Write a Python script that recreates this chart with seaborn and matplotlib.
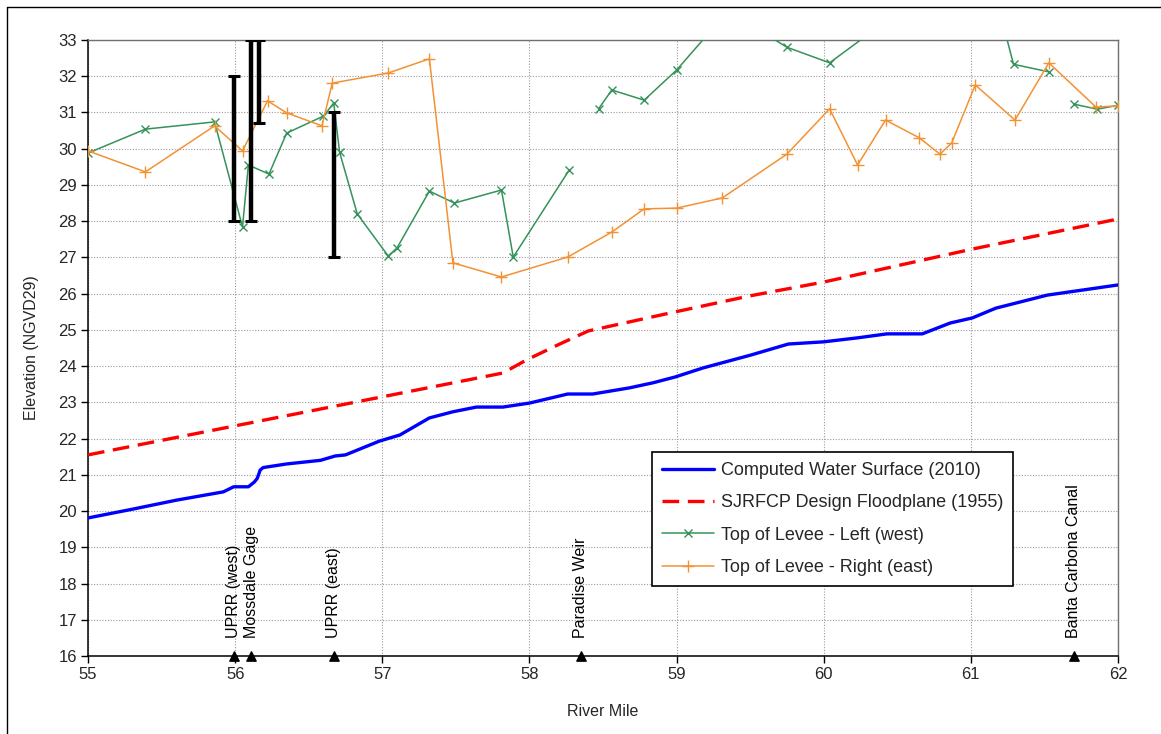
import numpy as np
import pandas as pd
import matplotlib
matplotlib.use("Agg")
import matplotlib.pyplot as plt
import seaborn as sns
from matplotlib.lines import Line2D

# ---------------- data ----------------
ws_mile = [55.0, 55.3, 55.6, 55.92, 55.99, 56.09, 56.13, 56.15, 56.17, 56.19, 56.35, 56.58,
           56.68, 56.75, 56.98, 57.12, 57.32, 57.48, 57.64, 57.82, 58.0, 58.26, 58.43, 58.68,
           58.84, 58.99, 59.18, 59.5, 59.76, 60.0, 60.23, 60.43, 60.67, 60.86, 61.01, 61.17,
           61.52, 62.0]
ws_elev = [19.81, 20.05, 20.3, 20.53, 20.67, 20.67, 20.8, 20.9, 21.13, 21.2, 21.3, 21.4,
           21.52, 21.55, 21.93, 22.10, 22.57, 22.74, 22.87, 22.87, 22.98, 23.23, 23.23, 23.4,
           23.54, 23.7, 23.95, 24.3, 24.61, 24.67, 24.78, 24.89, 24.89, 25.19, 25.33, 25.6,
           25.96, 26.24]

fp_mile = [55.0, 57.82, 57.98, 58.19, 58.4, 58.96, 59.5, 60.0, 61.01, 62.0]
fp_elev = [21.55, 23.81, 24.17, 24.58, 24.97, 25.47, 25.94, 26.32, 27.23, 28.06]

# left (west) levee, three separate reaches
left1_mile = [55.0, 55.39, 55.86, 56.05, 56.09, 56.23, 56.35, 56.6, 56.67, 56.71, 56.83,
              57.04, 57.1, 57.32, 57.49, 57.81, 57.89, 58.27]
left1_elev = [29.88, 30.54, 30.74, 27.84, 29.55, 29.30, 30.43, 30.9, 31.26, 29.9, 28.2,
              27.04, 27.26, 28.83, 28.5, 28.86, 27.01, 29.41]
left2_mile = [58.47, 58.56, 58.78, 59.0, 59.35, 59.75, 60.04, 60.5, 61.15, 61.29, 61.53]
left2_elev = [31.1, 31.62, 31.34, 32.17, 33.8, 32.8, 32.37, 33.75, 34.5, 32.33, 32.12]
left3_mile = [61.7, 61.86, 62.0]
left3_elev = [31.23, 31.09, 31.2]

right_mile = [55.0, 55.39, 55.86, 56.05, 56.22, 56.35, 56.59, 56.66, 57.04, 57.32, 57.48,
              57.81, 58.26, 58.56, 58.78, 59.0, 59.31, 59.75, 60.04, 60.23, 60.42, 60.65,
              60.79, 60.87, 61.03, 61.3, 61.53, 61.85, 62.0]
right_elev = [29.94, 29.36, 30.63, 29.94, 31.32, 30.99, 30.63, 31.81, 32.09, 32.48, 26.85,
              26.46, 27.01, 27.7, 28.34, 28.36, 28.64, 29.85, 31.1, 29.55, 30.79, 30.3,
              29.85, 30.16, 31.76, 30.79, 32.37, 31.15, 31.18]

# vertical range bars
bar_mile = [55.99, 56.11, 56.16, 56.67]
bar_low = [28.0, 28.0, 30.7, 27.0]
bar_high = [32.0, 33.0, 33.0, 31.0]

# landmarks
lm_mile = [55.99, 56.11, 56.67, 58.35, 61.70]
lm_name = ["UPRR (west)", "Mossdale Gage", "UPRR (east)", "Paradise Weir", "Banta Carbona Canal"]

xticks = [55, 56, 57, 58, 59, 60, 61, 62]
yticks = list(range(16, 34))

# ---------------- style ----------------
sns.set_style("white")
plt.rcParams['font.family'] = ['Liberation Sans', 'DejaVu Sans']
FS = 11.5

fig = plt.figure(figsize=(11.61, 7.34), dpi=100)
ax = fig.add_axes([88 / 1161, 1 - 656 / 734, (1118 - 88) / 1161, (656 - 40) / 734])

BLUE = "#0000ff"
RED = "#ff0000"
GREEN = "#34925a"
ORANGE = "#f39233"

sns.lineplot(x=ws_mile, y=ws_elev, ax=ax, color=BLUE, linewidth=2.4, sort=False,
             estimator=None, label="Computed Water Surface (2010)", zorder=4)
sns.lineplot(x=fp_mile, y=fp_elev, ax=ax, color=RED, linewidth=2.4, sort=False,
             estimator=None, linestyle=(0, (5, 2.6)), label="SJRFCP Design Floodplane (1955)", zorder=4)
for i, (xm, ye) in enumerate([(left1_mile, left1_elev), (left2_mile, left2_elev), (left3_mile, left3_elev)]):
    sns.lineplot(x=xm, y=ye, ax=ax, color=GREEN, linewidth=1.1, sort=False, estimator=None,
                 marker="x", markersize=6, markeredgecolor=GREEN, markeredgewidth=1.0,
                 label="Top of Levee - Left (west)" if i == 0 else None, zorder=3)
sns.lineplot(x=right_mile, y=right_elev, ax=ax, color=ORANGE, linewidth=1.1, sort=False,
             estimator=None, marker="+", markersize=8, markeredgecolor=ORANGE,
             markeredgewidth=1.0, label="Top of Levee - Right (east)", zorder=3)

bar_mid = [(l + h) / 2 for l, h in zip(bar_low, bar_high)]
bar_half = [(h - l) / 2 for l, h in zip(bar_low, bar_high)]
ax.errorbar(bar_mile, bar_mid, yerr=bar_half, fmt="none", ecolor="black", elinewidth=3.2,
            capsize=4, capthick=2.2, zorder=5)

ax.scatter(lm_mile, [16] * len(lm_mile), marker="^", s=45, color="black", zorder=6, clip_on=False)
for xm, name in zip(lm_mile, lm_name):
    ax.text(xm, 16.5, name, rotation=90, ha="center", va="bottom", fontsize=FS, color="black")

ax.set_xlim(55, 62)
ax.set_ylim(16, 33)
ax.set_xticks(xticks)
ax.set_yticks(yticks)
ax.tick_params(axis="both", bottom=True, left=True, direction="out", length=5, width=1,
               color="black", labelsize=FS + 0.5, pad=3)
ax.grid(True, linestyle=(0, (1, 1.5)), color="#9a9a9a", linewidth=0.8)
ax.set_axisbelow(True)
for s in ["left", "bottom"]:
    ax.spines[s].set_color("black")
    ax.spines[s].set_linewidth(1.1)
for s in ["top", "right"]:
    ax.spines[s].set_color("#707070")
    ax.spines[s].set_linewidth(1.0)

ax.set_xlabel("River Mile", fontsize=FS, labelpad=16)
ax.set_ylabel("Elevation (NGVD29)", fontsize=FS, labelpad=14)

leg = ax.legend(loc="upper left", bbox_to_anchor=((652 - 88) / 1030, (656 - 452) / 616),
                frameon=True, fancybox=False, framealpha=1, edgecolor="black",
                fontsize=13, labelspacing=0.85, handlelength=2.9, handletextpad=0.35,
                borderpad=0.55, borderaxespad=0)
leg.get_frame().set_linewidth(1.2)

# outer frame of the chart object
fig.add_artist(Line2D([7 / 1161, 7 / 1161], [0, 1 - 7 / 734], transform=fig.transFigure,
                      color="black", linewidth=1))
fig.add_artist(Line2D([7 / 1161, 1], [1 - 7 / 734, 1 - 7 / 734], transform=fig.transFigure,
                      color="black", linewidth=1))

fig.savefig("out.png", dpi=100)
